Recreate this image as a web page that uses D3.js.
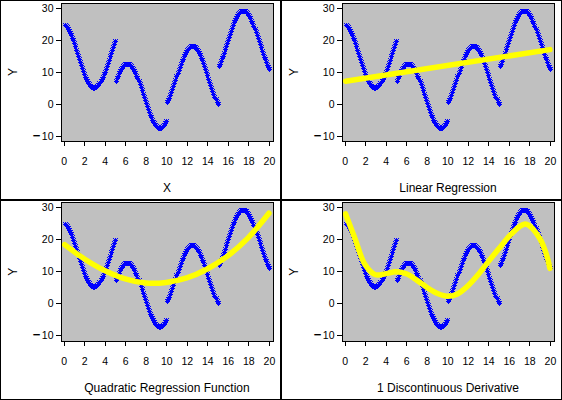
<!DOCTYPE html>
<html><head><meta charset="utf-8">
<script src="https://cdn.jsdelivr.net/npm/d3@7"></script>
<style>
html,body{margin:0;padding:0;background:#fff;}
svg{display:block;}
text{font-family:"Liberation Sans",Arial,sans-serif;fill:#000;}
</style></head><body>
<svg id="chart" width="562" height="400"></svg>
<script>
// Observed Y values, x = 0.1, 0.2, ..., 20.0
const yValues = [
  24.77,24.45,24.03,23.52,22.93,22.26,21.52,20.72,19.86,18.95,
  18.01,17.04,16.05,15.05,14.05,13.06,12.10,11.16,10.27,9.42,
  8.63,7.91,7.26,6.69,6.20,5.81,5.50,5.30,5.19,5.18,
  5.27,5.46,5.75,6.13,6.60,7.16,7.80,8.51,9.29,10.12,
  11.00,11.92,12.90,13.88,14.88,15.88,16.87,17.84,18.79,19.70,
  7.16,8.03,8.84,9.59,10.27,10.88,11.40,11.84,12.18,12.43,
  12.58,12.63,12.58,12.43,12.18,11.84,11.40,10.88,10.27,9.59,
  8.84,8.03,7.16,6.25,5.30,4.33,3.33,2.33,1.34,0.35,
  -0.61,-1.54,-2.42,-3.26,-4.04,-4.75,-5.39,-5.94,-6.41,-6.80,
  -7.08,-7.27,-7.37,-7.36,-7.25,-7.04,-6.74,-6.34,-5.86,-5.28,
  0.63,1.33,2.10,2.92,3.80,4.73,5.68,6.66,7.66,8.66,
  9.65,10.63,11.59,12.50,13.38,14.20,14.96,15.66,16.27,16.81,
  17.26,17.62,17.88,18.04,18.11,18.08,17.94,17.71,17.38,16.96,
  16.45,15.86,15.19,14.45,13.65,12.79,11.88,10.94,9.97,8.98,
  7.98,6.98,5.99,5.03,4.09,3.20,2.35,1.57,0.84,0.19,
  11.90,12.62,13.41,14.26,15.15,16.09,17.05,18.04,19.04,20.04,
  21.03,22.00,22.94,23.85,24.71,25.51,26.25,26.92,27.51,28.02,
  28.44,28.76,29.00,29.13,29.16,29.09,28.93,28.66,28.31,27.86,
  27.32,26.70,26.01,25.24,24.42,23.54,22.63,21.67,20.69,19.70,
  18.70,17.70,16.72,15.77,14.84,13.96,13.14,12.37,11.67,11.05
];
const xValues = d3.range(1, 201).map(i => i / 10);

const xTicks = [0,2,4,6,8,10,12,14,16,18,20];
const yTicks = [-10,0,10,20,30];

const linearX = [0.1, 20];
const linearY = [7.2, 17.0];

const quadX = [0.1,2,4,6,8,10,12,14,16,18,20];
const quadY = [18.3,13.9,10.2,7.6,6.3,6.5,7.9,10.7,14.8,20.5,28.1];

const splineX = [0.1,1,2,3,4,5,6,7,8,9,10,11,12,13,14,15,16,17,17.5,18,19,19.5,20];
const splineY = [27.9,20.3,12.0,8.9,9.2,9.8,9.2,7.3,5.0,3.1,2.2,2.9,5.4,8.9,13.0,16.9,20.8,23.8,24.7,24.2,20.3,16.7,10.9];

const panelTitles = ["X","Linear Regression","Quadratic Regression Function","1 Discontinuous Derivative"];
const fits = [null, [linearX, linearY], [quadX, quadY], [splineX, splineY]];

const svg = d3.select("#chart");
const points = xValues.map((x, i) => ({x, y: yValues[i]}));
const starPath = "M-2.5,0H2.5M0,-2.5V2.5M-2,-2L2,2M-2,2L2,-2";

panelTitles.forEach((title, i) => {
  const col = i % 2, row = Math.floor(i / 2);
  const ox = col * 281, oy = row * 200;
  const g = svg.append("g").attr("transform", `translate(${ox},${oy})`);

  // panel border
  g.append("rect").attr("x", 0.5).attr("y", 0.5).attr("width", 280).attr("height", 199)
    .attr("fill", "#fff").attr("stroke", "#000").attr("stroke-width", 1)
    .attr("shape-rendering", "crispEdges");

  const fL = 61, fR = 273, fT = row ? 2.7 : 3, fB = 141;
  const x = d3.scaleLinear().domain([-0.25, 20.4]).range([fL, fR]);
  const y = d3.scaleLinear().domain(row ? [-11.8, 31.4] : [-11.4, 31.5]).range([fB, fT]);

  g.append("rect").attr("x", fL).attr("y", fT).attr("width", fR - fL).attr("height", fB - fT)
    .attr("fill", "#c0c0c0");

  const clipId = "clip" + i;
  g.append("clipPath").attr("id", clipId).append("rect")
    .attr("x", fL).attr("y", fT).attr("width", fR - fL).attr("height", fB - fT);

  const plot = g.append("g").attr("clip-path", `url(#${clipId})`);
  plot.selectAll("path.star").data(points).join("path")
    .attr("class", "star")
    .attr("d", starPath)
    .attr("transform", d => `translate(${Math.round(x(d.x)) + 0.5},${Math.round(y(d.y)) + 0.5})`)
    .attr("fill", "none").attr("stroke", "#0000ff").attr("stroke-width", 1)
    .attr("shape-rendering", "crispEdges");

  const fit = fits[i];
  if (fit) {
    const fp = fit[0].map((xv, k) => [xv, fit[1][k]]);
    const line = d3.line().x(d => x(d[0])).y(d => y(d[1]))
      .curve(i === 1 ? d3.curveLinear : d3.curveCatmullRom.alpha(0.5));
    plot.append("path").datum(fp).attr("d", line)
      .attr("fill", "none").attr("stroke", "#ffff00").attr("stroke-width", 5.5)
      .attr("stroke-linecap", "round").attr("stroke-linejoin", "round");
  }

  // frame
  g.append("rect").attr("x", fL).attr("y", fT).attr("width", fR - fL).attr("height", fB - fT)
    .attr("fill", "none").attr("stroke", "#000").attr("stroke-width", 1)
    .attr("shape-rendering", "crispEdges");

  // axes
  const yAxis = d3.axisLeft(y).tickValues(yTicks).tickSize(5).tickPadding(2.5)
    .tickFormat(d => d < 0 ? "" : String(d));
  const ya = g.append("g").attr("transform", `translate(${fL},0)`).call(yAxis);
  ya.select(".domain").remove();
  ya.selectAll("line").attr("shape-rendering", "crispEdges");
  ya.selectAll("text").attr("font-size", 10.5).attr("font-family", null);
  ya.selectAll(".tick").filter(d => d < 0).select("text").each(function(d) {
    const t = d3.select(this);
    t.append("tspan").attr("font-weight", "bold").attr("font-size", 13).text("\u2212");
    t.append("tspan").attr("dx", 1.5).text(String(Math.abs(d)));
  });

  const xAxis = d3.axisBottom(x).tickValues(xTicks).tickSize(5).tickPadding(12);
  const xa = g.append("g").attr("transform", `translate(0,${fB})`).call(xAxis);
  xa.select(".domain").remove();
  xa.selectAll("line").attr("shape-rendering", "crispEdges");
  xa.selectAll("text").attr("font-size", 10.5).attr("font-family", null);

  // labels
  g.append("text").attr("transform", `translate(16.5,${(fT + fB) / 2}) rotate(-90)`)
    .attr("text-anchor", "middle").attr("font-size", 12).text("Y");
  g.append("text").attr("x", (fL + fR) / 2).attr("y", 192)
    .attr("text-anchor", "middle").attr("font-size", 12).text(title);
});
</script>
</body></html>
